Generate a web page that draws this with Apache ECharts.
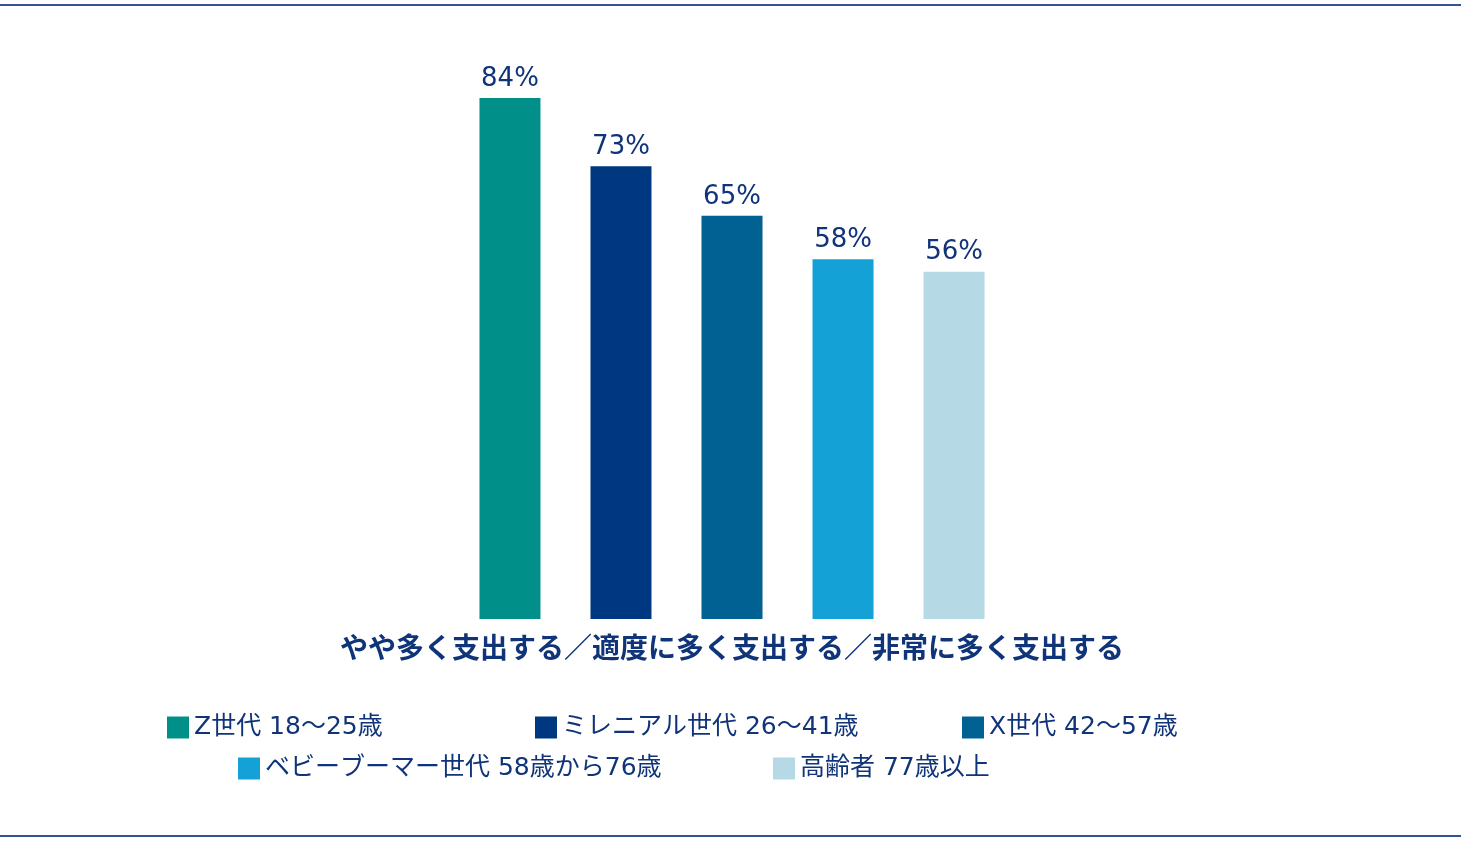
<!DOCTYPE html>
<html><head><meta charset="utf-8">
<script src="https://cdn.jsdelivr.net/npm/echarts@6/dist/echarts.min.js"></script>
<style>html,body{margin:0;padding:0;background:#fff}#c{width:1461px;height:841px}</style>
</head><body><div id="c"></div>
<script>
var category = ['やや多く支出する／適度に多く支出する／非常に多く支出する'];
var seriesNames = ['Z世代 18～25歳', 'ミレニアル世代 26～41歳', 'X世代 42～57歳', 'ベビーブーマー世代 58歳から76歳', '高齢者 77歳以上'];
var values = [84, 73, 65, 58, 56];
var colors = ['#009089', '#003781', '#006192', '#14A1D6', '#B5DAE5'];
var legendPos = [[162, 710], [530, 710], [957, 710], [233, 751], [768, 751]];

var font = '"DejaVu Sans", "Noto Sans CJK JP", sans-serif';
var myChart = echarts.init(document.getElementById('c'));

var series = seriesNames.map(function (n, i) {
  return {
    name: n, type: 'bar', data: [values[i]], barWidth: 61, barGap: '82%',
    itemStyle: { color: colors[i] },
    label: { show: true, position: 'top', formatter: '{c}%', color: '#0F3479', fontSize: 26, fontFamily: font, distance: 6 }
  };
});
var legends = seriesNames.map(function (n, i) {
  return {
    data: [n], left: legendPos[i][0], top: legendPos[i][1], icon: 'rect', itemWidth: 22, itemHeight: 22,
    itemGap: 12, textStyle: { fontSize: 25, color: '#0F3479', fontFamily: font }, selectedMode: false
  };
});

myChart.setOption({
  animation: false,
  grid: { left: 282, right: 279, top: 98, bottom: 222 },
  xAxis: {
    type: 'category', data: category,
    axisLine: { show: false }, axisTick: { show: false },
    axisLabel: { color: '#0F3479', fontSize: 28, fontWeight: 'bold', fontFamily: font, margin: 18 }
  },
  yAxis: { type: 'value', min: 0, max: 84, show: false, splitLine: { show: false } },
  legend: legends,
  series: series,
  graphic: [
    { type: 'line', shape: { x1: 0, y1: 5, x2: 1461, y2: 5 }, style: { stroke: '#2F5597', lineWidth: 2 } },
    { type: 'line', shape: { x1: 0, y1: 836, x2: 1461, y2: 836 }, style: { stroke: '#2F5597', lineWidth: 2 } }
  ]
});
</script></body></html>
